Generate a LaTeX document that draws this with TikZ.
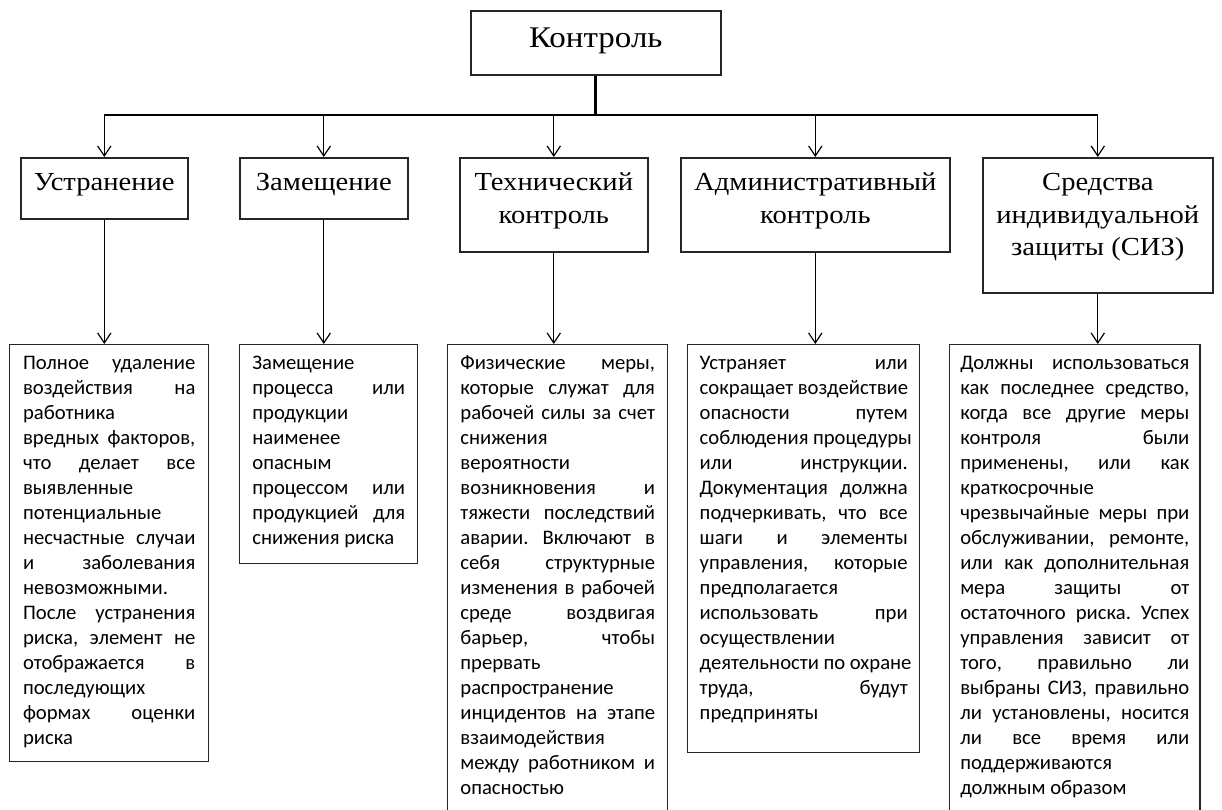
\documentclass[tikz,border=0pt]{standalone}
\usepackage{fontspec}
\setmainfont{Liberation Serif}[FakeStretch=1.1]
\newfontfamily\descfont{Carlito}
\usetikzlibrary{arrows.meta}

\newcommand\JL[1]{\par\noindent\hbox to\linewidth{\spaceskip=0.22em plus 1fil\xspaceskip=\spaceskip\relax #1}}
\newcommand\LL[1]{\par\noindent\hbox to\linewidth{#1\hfil}}
\newcommand\headtext[3]{\parbox[c][#1][t]{#2}{\parskip=0pt\centering\fontsize{19.5}{24.5}\selectfont\hbox{}#3}}
\newcommand\desctext[3]{\parbox[c][#1][t]{#2}{\parskip=0pt\descfont\fontsize{15.5}{18.75}\selectfont\frenchspacing\hbox{}#3}}

\tikzset{
  x=0.75pt, y=-0.75pt,
  boxnode/.style={draw=black!85, line width=1.2pt, inner sep=0pt, anchor=north west},
  descnode/.style={draw=black!85, line width=1.1pt, inner ysep=0pt, anchor=north west},
  stem/.style={line width=2pt},
  busline/.style={line width=1.5pt},
  arr/.style={line width=0.75pt, -{Straight Barb[length=7.5pt,width=10pt,line width=0.9pt]}},
}

\begin{document}
\begin{tikzpicture}
\useasboundingbox (0,0) rectangle (1222,810);
\clip (0,0) rectangle (1222,810);
\fill[white] (0,0) rectangle (1222,810);

% top
\node[boxnode] (ctrl) at (470,10) {\parbox[c][48pt][t]{187.5pt}{\parskip=0pt\centering\fontsize{22.5}{27.75}\selectfont\hbox{}Контроль}};

% level 2
\node[boxnode] (n1) at (20,157) {\headtext{45.75pt}{125.25pt}{Устранение}};
\node[boxnode] (n2) at (239,157) {\headtext{45.75pt}{126pt}{Замещение}};
\node[boxnode] (n3) at (459,157) {\headtext{70.5pt}{141pt}{Технический\\контроль}};
\node[boxnode] (n4) at (680,157) {\headtext{70.5pt}{201.75pt}{Административный\\контроль}};
\node[boxnode] (n5) at (982,157) {\headtext{101.25pt}{172.5pt}{Средства\\индивидуальной\\защиты (СИЗ)}};

% level 3
\node[descnode, inner xsep=10pt] (d1) at (9,344) {\desctext{312.75pt}{129.25pt}{%
\JL{Полное удаление}
\JL{воздействия на}
\LL{работника}
\JL{вредных факторов,}
\JL{что делает все}
\LL{выявленные}
\LL{потенциальные}
\JL{несчастные случаи}
\JL{и заболевания}
\LL{невозможными.}
\JL{После устранения}
\JL{риска, элемент не}
\JL{отображается в}
\LL{последующих}
\JL{формах оценки}
\LL{риска}}};

\node[descnode, inner xsep=9.5pt] (d2) at (239,344) {\desctext{164.25pt}{114.5pt}{%
\LL{Замещение}
\JL{процесса или}
\LL{продукции}
\LL{наименее}
\LL{опасным}
\JL{процессом или}
\JL{продукцией для}
\LL{снижения риска}}};

\node[descnode, inner xsep=9.5pt] (d3) at (447,344) {\desctext{353.25pt}{146pt}{%
\JL{Физические меры,}
\JL{которые служат для}
\JL{рабочей силы за счет}
\LL{снижения}
\LL{вероятности}
\JL{возникновения и}
\JL{тяжести последствий}
\JL{аварии. Включают в}
\JL{себя структурные}
\JL{изменения в рабочей}
\JL{среде воздвигая}
\JL{барьер, чтобы}
\LL{прервать}
\LL{распространение}
\JL{инцидентов на этапе}
\LL{взаимодействия}
\JL{между работником и}
\LL{опасностью}}};

\node[descnode, inner xsep=9pt] (d4) at (687,344) {\desctext{306pt}{156pt}{%
\JL{Устраняет или}
\JL{сокращает воздействие}
\JL{опасности путем}
\JL{соблюдения процедуры}
\JL{или инструкции.}
\JL{Документация должна}
\JL{подчеркивать, что все}
\JL{шаги и элементы}
\JL{управления, которые}
\LL{предполагается}
\JL{использовать при}
\LL{осуществлении}
\JL{деятельности по охране}
\JL{труда, будут}
\LL{предприняты}}};

\node[descnode, inner xsep=7.9pt] (d5) at (949,344) {\desctext{353.25pt}{171.75pt}{%
\JL{Должны использоваться}
\JL{как последнее средство,}
\JL{когда все другие меры}
\JL{контроля были}
\JL{применены, или как}
\LL{краткосрочные}
\JL{чрезвычайные меры при}
\JL{обслуживании, ремонте,}
\JL{или как дополнительная}
\JL{мера защиты от}
\JL{остаточного риска. Успех}
\JL{управления зависит от}
\JL{того, правильно ли}
\JL{выбраны СИЗ, правильно}
\JL{ли установлены, носится}
\JL{ли все время или}
\LL{поддерживаются}
\LL{должным образом}}};

% connectors
\coordinate (bus) at (595,115);
\draw[stem] (ctrl.south) -- (ctrl.south |- bus);
\draw[busline] (n1.north |- bus) -- (n5.north |- bus);
\foreach \n in {n1,n2,n3,n4,n5}{
  \draw[arr] (\n.north |- bus) -- (\n.north);
}
\foreach \a/\b in {n1/d1,n2/d2,n3/d3,n4/d4,n5/d5}{
  \draw[arr] (\a.south) -- (\a.south |- \b.north);
}
\end{tikzpicture}
\end{document}
